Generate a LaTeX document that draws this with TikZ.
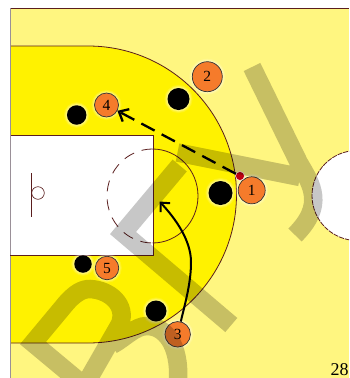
\documentclass[tikz,border=0pt]{standalone}
\usepackage{fontspec}
\setmainfont{Liberation Serif}
\usetikzlibrary{arrows.meta}
\definecolor{lightcourt}{HTML}{FFF680}
\definecolor{brightcourt}{HTML}{FFF200}
\definecolor{courtline}{HTML}{5A1E1E}
\definecolor{framegray}{HTML}{9A9098}
\definecolor{playerorange}{HTML}{F57B2B}
\definecolor{ballred}{HTML}{C00010}
\tikzset{
  halo/.style={preaction={draw=white,line width=6pt,draw opacity=.12},
               preaction={draw=white,line width=4pt,draw opacity=.18},
               preaction={draw=white,line width=2.2pt,draw opacity=.25}},
  player/.style={circle,halo,draw=black!80,line width=.7pt,fill=playerorange,inner sep=0pt,
                 font=\fontsize{15.5}{15.5}\selectfont},
  defender/.style={circle,halo,fill=black,inner sep=0pt},
  courtstroke/.style={draw=courtline,line width=.8pt},
  pass/.style={line width=2.3pt,dash pattern=on 15pt off 8pt,-{Straight Barb[length=8pt,width=14pt,line width=2.3pt]}},
  cut/.style={line width=2pt,-{Straight Barb[length=7pt,width=13pt,line width=2pt]}},
  watermark/.style={draw=black,draw opacity=.22,line width=18.5pt,line join=miter,line cap=butt}
}
\begin{document}
\begin{tikzpicture}[x=1pt,y=-1pt]
\useasboundingbox (0,0) rectangle (349,378);
\clip (0,0) rectangle (349,378);
\fill[white] (0,0) rectangle (349,378);
% court
\fill[lightcourt] (10,8) rectangle (349,378);
\fill[brightcourt] (10,46) -- (88,46) arc[start angle=-90,end angle=90,radius=148.5] -- (10,343) -- cycle;
\draw[courtstroke] (10,46) -- (88,46) arc[start angle=-90,end angle=90,radius=148.5] -- (10,343);
\draw[draw=courtline,line width=.9pt] (10,8) -- (349,8);
\draw[draw=framegray,line width=1pt] (10,8) -- (10,378);
% key
\fill[white] (10,135) rectangle (153,255);
\draw[courtstroke] (10,135) -- (153,135) -- (153,255) -- (10,255);
\draw[draw=framegray,line width=1pt] (10,135) -- (10,255);
% free-throw circle
\draw[courtstroke] (152.5,149) arc[start angle=-90,end angle=90,x radius=45.5,y radius=47];
\draw[courtstroke,dash pattern=on 11pt off 8pt] (152.5,149) arc[start angle=-90,end angle=-270,x radius=45.5,y radius=47];
% backboard and hoop
\draw[draw=courtline,line width=.8pt] (31.5,173) -- (31.5,217);
\draw[draw=courtline,line width=.6pt] (38,193) circle[radius=6.3];
% centre circle
\draw[courtstroke,fill=white,dash pattern=on 5pt off 1pt] (357,195.5) circle[radius=45];
% defenders
\node[defender,minimum size=19.5pt] (d1) at (76.7,115) {};
\node[defender,minimum size=22pt] (d2) at (178.5,99) {};
\node[defender,minimum size=24pt] (d3) at (220.5,193) {};
\node[defender,minimum size=17.5pt] (d4) at (83,264) {};
\node[defender,minimum size=21pt] (d5) at (156,311) {};
% players
\node[player,minimum size=27pt] (p1) at (251.7,190.3) {1};
\node[player,minimum size=30pt] (p2) at (207.3,76.7) {2};
\node[player,minimum size=25.5pt] (p3) at (177.7,334.3) {3};
\node[player,minimum size=24pt] (p4) at (106.5,105) {4};
\node[player,minimum size=23.5pt] (p5) at (107,268) {5};
\node[circle,fill=ballred,draw=white,line width=.5pt,inner sep=0pt,minimum size=9pt] (ball) at (240,176) {};
\coordinate (cuttip) at (159.5,201.5);
% connectors
\draw[pass] (ball) -- (p4);
\draw[cut] (p3) .. controls (186,300) and (191,282) .. (191,262) .. controls (191,240) and (175,218) .. (cuttip);
% page number
\node[anchor=base west,inner sep=0pt,font=\fontsize{18}{18}\selectfont] (pagenum) at (330.5,375) {28};
% watermark strokes
\draw[watermark]
  (93,393) -- (33,343) -- (63,307) .. controls (75,292) and (83,289) .. (90,289)
    .. controls (110,290) and (127,305) .. (120,324) -- (85,385)
  (112,345) .. controls (125,338) and (135,326) .. (147,326) .. controls (165,326) and (180,345) .. (178,380)
  (231.3,325) -- (123,233) -- (179.7,165.5)
  (177.5,152.5) -- (300,177)
  (252,67) -- (299,163) .. controls (312,185) and (325,205) .. (295,235);
\end{tikzpicture}
\end{document}
